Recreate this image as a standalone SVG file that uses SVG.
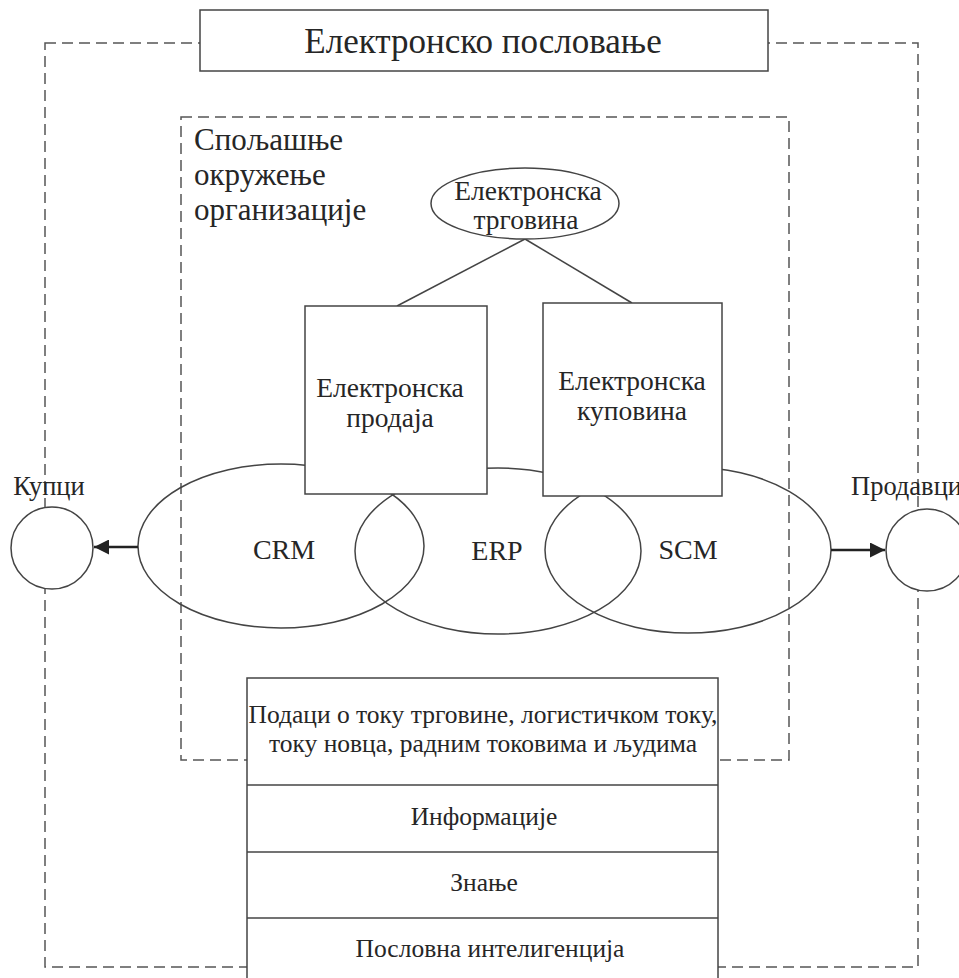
<svg xmlns="http://www.w3.org/2000/svg" width="959" height="978" viewBox="0 0 959 978">
<defs>
<style>
.t{font-family:"Liberation Serif","Times New Roman",serif;fill:#262626}
.c{text-anchor:middle}
.s{fill:none;stroke:#444;stroke-width:1.5}
.w{fill:#fff;stroke:#444;stroke-width:1.5}
.d{fill:none;stroke:#555;stroke-width:1.5;stroke-dasharray:11 6}
.a{stroke:#222;stroke-width:2.5;fill:none}
</style>
<marker id="ah" viewBox="0 0 10 10" refX="10" refY="5" markerWidth="6.5" markerHeight="6" markerUnits="strokeWidth" orient="auto">
<path d="M0,0 L10,5 L0,10 Z" fill="#222"/>
</marker>
</defs>
<rect width="959" height="978" fill="#fff"/>
<g id="outer-frame"><rect class="d" x="45" y="43" width="873" height="924"/></g>
<g id="inner-frame"><rect class="d" x="181" y="117" width="608" height="643"/>
<text class="t" font-size="31" x="194" y="150">Спољашње</text>
<text class="t" font-size="31" x="194" y="185">окружење</text>
<text class="t" font-size="31" x="194" y="220">организације</text>
</g>
<g id="crm"><ellipse class="s" cx="281" cy="546" rx="143" ry="82"/><text class="t c" font-size="28" x="284" y="559">CRM</text></g>
<g id="erp"><ellipse class="s" cx="498" cy="551" rx="143" ry="83"/><text class="t c" font-size="28" x="497" y="560">ERP</text></g>
<g id="scm"><ellipse class="s" cx="688" cy="550" rx="143" ry="83"/><text class="t c" font-size="28" x="688" y="559">SCM</text></g>
<g id="connectors">
<line class="s" x1="525" y1="239" x2="397" y2="306"/>
<line class="s" x1="525" y1="239" x2="632" y2="303"/>
<line class="a" x1="138" y1="547" x2="94" y2="547" marker-end="url(#ah)"/>
<line class="a" x1="831" y1="550" x2="885" y2="550" marker-end="url(#ah)"/>
</g>
<g id="title"><rect class="w" x="200" y="10" width="568" height="61"/><text class="t c" font-size="35" x="483" y="53">Електронско пословање</text></g>
<g id="etrgovina"><ellipse class="w" cx="525" cy="203.5" rx="94" ry="35.5"/>
<text class="t c" font-size="27.5" x="528" y="200">Електронска</text>
<text class="t c" font-size="27.5" x="526" y="229">трговина</text></g>
<g id="eprodaja"><rect class="w" x="305" y="306" width="182" height="188"/>
<text class="t c" font-size="27.5" x="390" y="397">Електронска</text>
<text class="t c" font-size="27.5" x="390" y="427">продаја</text></g>
<g id="ekupovina"><rect class="w" x="543" y="303" width="179" height="193"/>
<text class="t c" font-size="27.5" x="632" y="390">Електронска</text>
<text class="t c" font-size="27.5" x="632" y="420">куповина</text></g>
<g id="kupci"><circle class="w" cx="52" cy="548" r="41"/><text class="t c" font-size="26.5" x="49" y="495">Купци</text></g>
<g id="prodavci"><circle class="w" cx="927" cy="550" r="41"/><text class="t" font-size="26.5" x="851" y="495">Продавци</text></g>
<g id="stack">
<rect class="w" x="247" y="678" width="471" height="305"/>
<line class="s" x1="247" y1="785" x2="718" y2="785"/>
<line class="s" x1="247" y1="852" x2="718" y2="852"/>
<line class="s" x1="247" y1="918" x2="718" y2="918"/>
<text class="t c" font-size="25.5" x="483" y="723">Подаци о току трговине, логистичком току,</text>
<text class="t c" font-size="25.5" x="483" y="752">току новца, радним токовима и људима</text>
<text class="t c" font-size="25.5" x="484" y="825">Информације</text>
<text class="t c" font-size="25.5" x="484" y="891">Знање</text>
<text class="t c" font-size="25.5" x="490" y="957">Пословна интелигенција</text>
</g>
</svg>
